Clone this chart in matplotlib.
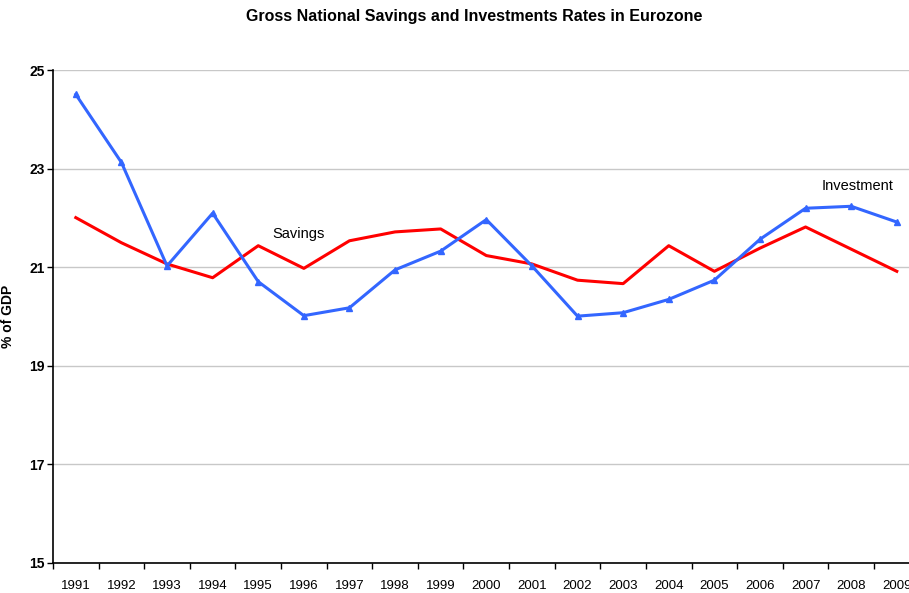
import matplotlib.pyplot as plt
import numpy as np

# data
years = [str(y) for y in range(1991, 2010)]
investment = [24.51, 23.13, 21.03, 22.10, 20.71, 20.02, 20.18, 20.95, 21.33, 21.97,
              21.03, 20.01, 20.08, 20.35, 20.74, 21.57, 22.20, 22.24, 21.92]
savings = [22.01, 21.50, 21.07, 20.79, 21.44, 20.98, 21.54, 21.72, 21.78, 21.24,
           21.07, 20.74, 20.67, 21.44, 20.92, 21.39, 21.82, 21.37, 20.92]
y_ticks = [15, 17, 19, 21, 23, 25]

plt.rcParams['font.family'] = ['Liberation Sans', 'DejaVu Sans']

W, H = 909, 593
fig = plt.figure(figsize=(W / 100, H / 100), dpi=100)
# plot area runs a little past the right edge of the picture, like the original
# (the 2009 label is cut off there in the reference too)
ax = fig.add_axes([53 / W, 1 - 563 / H, (919.6 - 53) / W, (563 - 70.3) / H])

x = np.arange(len(years))
ax.plot(x, savings, color='#FF0000', lw=2.2, zorder=3, clip_on=False)
ax.plot(x, investment, color='#3366FF', lw=2.2, marker='^', ms=5, zorder=4, clip_on=False)

ax.set_xlim(-0.5, len(years) - 0.5)
ax.set_ylim(15, 25)
ax.set_yticks(y_ticks)
ax.set_yticklabels([str(v) for v in y_ticks], fontweight='bold', fontsize=10)
ax.yaxis.grid(True, color='#C8C8C8', lw=1)
ax.set_axisbelow(True)

# tick marks between categories, labels at the centers
ax.set_xticks(np.arange(len(years) + 1) - 0.5)
ax.set_xticklabels([])
ax.set_xticks(x, minor=True)
ax.set_xticklabels(years, minor=True, fontsize=9.5)
ax.tick_params(axis='x', which='major', length=4, width=1, direction='out')
ax.tick_params(axis='x', which='minor', length=0, pad=12)
ax.tick_params(axis='y', length=4, width=1, direction='out', pad=2)

for s in ['top', 'right']:
    ax.spines[s].set_visible(False)
for s in ['left', 'bottom']:
    ax.spines[s].set_linewidth(1.2)

ax.set_ylabel('% of GDP', fontweight='bold', fontsize=10)
ax.yaxis.set_label_coords((15 - 53) / (919.6 - 53), 0.5)

fig.text(474 / W, 1 - 17 / H, 'Gross National Savings and Investments Rates in Eurozone',
         ha='center', va='center', fontsize=11.5, fontweight='bold')

narrow = ['Liberation Sans Narrow', 'Liberation Sans', 'DejaVu Sans']
ax.text(4.3, 21.68, 'Savings', family=narrow, fontsize=10.5, ha='left', va='center')
ax.text(16.35, 22.65, 'Investment', family=narrow, fontsize=10.5, ha='left', va='center')

fig.savefig('out.png', dpi=100)
